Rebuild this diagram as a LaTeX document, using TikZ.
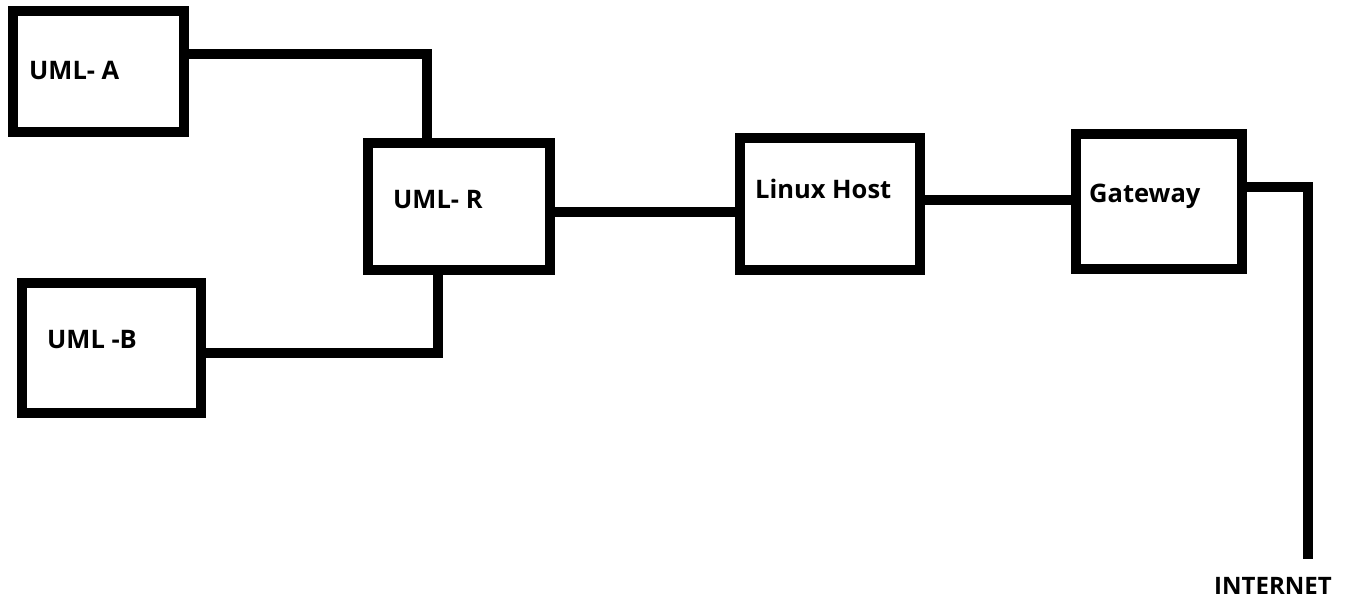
\documentclass[tikz,border=0pt]{standalone}
\usepackage{fontspec}
\setmainfont{Open Sans}
\usetikzlibrary{positioning}

\tikzset{
  box/.style={draw, line width=10pt, inner sep=0pt},
  lbl/.style={anchor=base west, inner sep=0pt, font=\fontsize{25.5}{30}\selectfont\bfseries},
  wire/.style={line width=10pt}
}

\begin{document}
\begin{tikzpicture}[x=1pt,y=-1pt]
		\useasboundingbox (0,0) rectangle (1361,599);
		% boxes
		\node [box, minimum width=171pt, minimum height=121pt] (umla) at (98.5,71.5) {};
		\node [box, minimum width=179pt, minimum height=130pt] (umlb) at (111.5,348) {};
		\node [box, minimum width=182pt, minimum height=127pt] (umlr) at (459,206.5) {};
		\node [box, minimum width=180pt, minimum height=132pt] (host) at (830,204) {};
		\node [box, minimum width=166pt, minimum height=135pt] (gate) at (1159,201.5) {};
		
		\node [lbl] (ta) at (29,80) {UML- A};
		\node [lbl] (tb) at (47,348) {UML -B};
		\node [lbl] (tr) at (393,208) {UML- R};
		\node [lbl] (th) at (755,199) {Linux Host};
		\node [lbl] (tg) at (1089,203) {Gateway};
		\node [lbl, font=\fontsize{24}{28}\selectfont\bfseries] (inet) at (1214,594) {INTERNET};
		
		\coordinate (rout) at ([shift={(-5pt,-5.5pt)}]umlr.east);
		\coordinate (hout) at ([yshift=4pt]host.east);
		\coordinate (gout) at ([shift={(-7pt,14.5pt)}]gate.east);
		\coordinate (end) at (1308,559);
		
		% links
		\draw [wire] ([yshift=17pt]umla.east) -| ([xshift=-32pt]umlr.north);
		\draw [wire] ([yshift=-5pt]umlb.east) -| ([xshift=-21pt]umlr.south);
		\draw [wire] (rout) -- (host.west |- rout);
		\draw [wire] (hout) -- (gate.west |- hout);
		\draw [wire] (gout) -| (end);
	\end{tikzpicture}
\end{document}
